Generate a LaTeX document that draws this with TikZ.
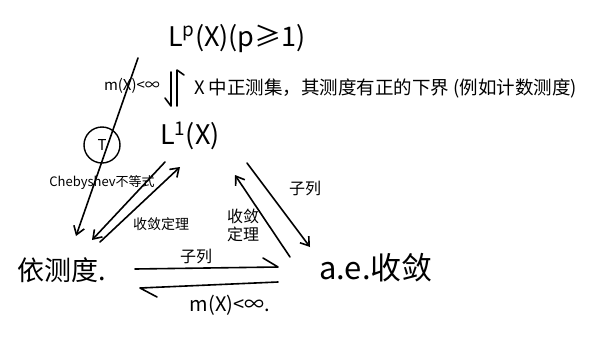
\documentclass[tikz,border=0pt]{standalone}
\usepackage{fontspec}
\setmainfont{Noto Sans CJK SC}
\usetikzlibrary{arrows.meta}
\begin{document}
\begin{tikzpicture}[x=1pt,y=-1pt,
  conn/.style={line width=1.6pt, line cap=round, line join=round},
  arr/.style={conn,-{Straight Barb[length=8pt,width=11pt,line width=1.6pt]}},
  lbl/.style={inner sep=0pt},
  big/.style={lbl,font=\fontsize{27}{29}\selectfont},
  mid/.style={lbl,font=\fontsize{16}{18}\selectfont},
  small/.style={lbl,font=\fontsize{13}{15}\selectfont}]
\useasboundingbox (0,0) rectangle (605,338);

% main nodes
\node[big,anchor=base west] (Lp) at (168,46) {L\textsuperscript{p}(X)(p≥1)};
\node[big] (L1) at (190,136) {L\textsuperscript{1}(X)};
\node[big] (ym) at (62,270) {依测度.};
\node[lbl,font=\fontsize{31}{33}\selectfont] (ae) at (376,268) {a.e.收敛};

% condition labels
\node[lbl,font=\fontsize{15}{17}\selectfont] (mx) at (132,86) {m(X)<∞};
\node[lbl,font=\fontsize{18.5}{20}\selectfont,anchor=west] (pos) at (194,88) {X 中正测集，其测度有正的下界 (例如计数测度)};
\node[small] (cheb) at (102,183) {Chebyshev不等式};
\node[lbl,font=\fontsize{14}{16}\selectfont] (slz) at (161,224) {收敛定理};
\node[mid] (zl1) at (196,256) {子列};
\node[lbl,font=\fontsize{20}{22}\selectfont] (mx2) at (230,305) {m(X)<∞.};
\node[mid] (zl2) at (305,188) {子列};
\node[mid,align=center] (slz2) at (243,225) {收敛\\定理};

% circled T
\node[lbl,draw,circle,line width=1.4pt,minimum size=36pt,font=\fontsize{15}{17}\selectfont] (T) at (102,145) {T};

% coordinates
\coordinate (a1) at (138,58);
\coordinate (a2) at (76,236);
\coordinate (b1) at (165,162);
\coordinate (b2) at (92,240);
\coordinate (c1) at (100,242);
\coordinate (c2) at (180,167);
\coordinate (d1) at (247,163);
\coordinate (d2) at (310,247);
\coordinate (e1) at (290,257);
\coordinate (e2) at (235,175);
\coordinate (f1) at (135,269);
\coordinate (f2) at (278,267);
\coordinate (f3) at (263,258);
\coordinate (g1) at (278,282);
\coordinate (g2) at (140,288);
\coordinate (g3) at (157,297);
\coordinate (h1) at (171,72);
\coordinate (h2) at (171,106);
\coordinate (h3) at (165,98);
\coordinate (k1) at (177,106);
\coordinate (k2) at (177,70);
\coordinate (k3) at (184,75);

% connectors
\draw[arr] (a1) -- (a2);
\draw[arr] (b1) -- (b2);
\draw[arr] (c1) -- (c2);
\draw[arr] (d1) -- (d2);
\draw[arr] (e1) -- (e2);
\draw[conn] (f1) -- (f2) -- (f3);
\draw[conn] (g1) -- (g2) -- (g3);
\draw[conn] (h1) -- (h2) -- (h3);
\draw[conn] (k1) -- (k2) -- (k3);
\end{tikzpicture}
\end{document}
